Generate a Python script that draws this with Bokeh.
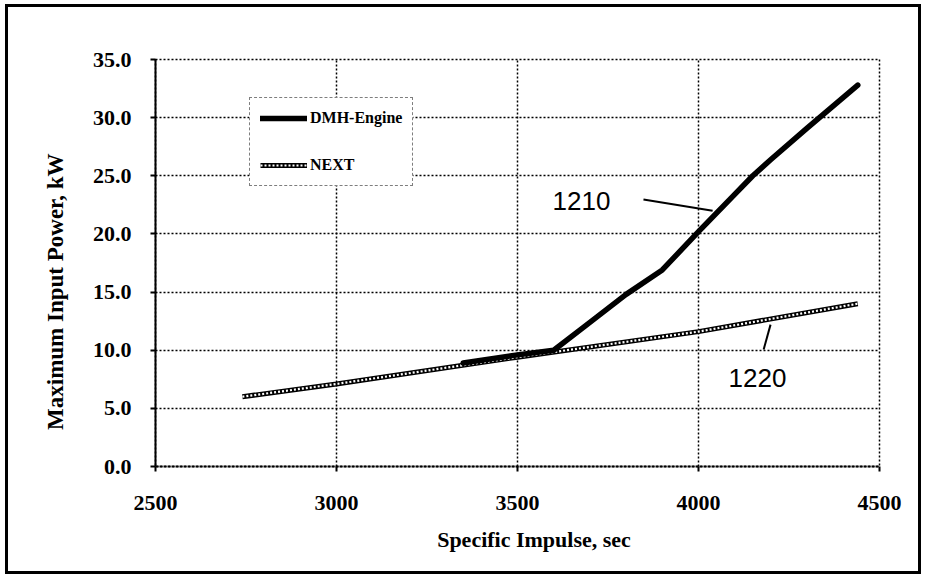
from bokeh.plotting import figure
from bokeh.models import (Legend, LegendItem, Label, NumeralTickFormatter,
                          FixedTicker, Range1d)
from bokeh.embed import file_html
from bokeh.resources import INLINE

# ---- data ----
dmh_isp = [3350, 3500, 3600, 3700, 3800, 3900, 4000, 4100, 4150, 4200, 4300, 4440]
dmh_power = [8.9, 9.6, 10.0, 12.4, 14.8, 16.9, 20.2, 23.4, 25.0, 26.4, 29.1, 32.8]
next_isp = [2740, 3000, 3500, 4000, 4440]
next_power = [6.0, 7.1, 9.4, 11.6, 14.0]
x_ticks = [2500, 3000, 3500, 4000, 4500]
y_ticks = [0, 5, 10, 15, 20, 25, 30, 35]
series_names = ["DMH-Engine", "NEXT"]
callouts = ["1210", "1220"]
callout_text_x = [3597, 4083]
callout_text_y = [22.8, 7.65]
leader_x = [[3848, 4039], [4199, 4180]]
leader_y = [[22.96, 22.0], [12.2, 10.06]]
x_title = "Specific Impulse, sec"
y_title = "Maximum Input Power, kW"

SERIF = "Liberation Serif"
SANS = "Liberation Sans"
NB = "\u00a0"

p = figure(width=916, height=570, output_backend="svg", toolbar_location=None,
           x_range=Range1d(2500, 4500), y_range=Range1d(0, 35),
           min_border_left=147, min_border_right=45, min_border_top=52,
           min_border_bottom=111)
p.styles = {"border": "3px solid black", "margin-left": "5px", "margin-top": "4px"}

p.outline_line_color = "black"
p.outline_line_dash = "2 2"
p.outline_line_width = 1.5

for g in (p.xgrid[0], p.ygrid[0]):
    g.grid_line_color = "black"
    g.grid_line_dash = "2 2"
    g.grid_line_width = 1.5

p.xaxis.ticker = FixedTicker(ticks=x_ticks)
p.yaxis.ticker = FixedTicker(ticks=y_ticks)
p.xgrid.ticker = FixedTicker(ticks=x_ticks)
p.ygrid.ticker = FixedTicker(ticks=y_ticks)
p.yaxis.formatter = NumeralTickFormatter(format="0.0")

for ax in (p.xaxis[0], p.yaxis[0]):
    ax.axis_line_color = "black"
    ax.axis_line_width = 2
    ax.major_tick_line_color = "black"
    ax.major_tick_line_width = 2
    ax.major_tick_out = 5
    ax.major_tick_in = 0
    ax.minor_tick_line_color = None
    ax.major_label_text_font = SERIF
    ax.major_label_text_font_style = "bold"
    ax.major_label_text_font_size = "22px"
    ax.major_label_text_color = "black"
    ax.axis_label_text_font = SERIF
    ax.axis_label_text_font_style = "bold"
    ax.axis_label_text_color = "black"
p.xaxis.axis_line_dash = "3 1"
p.yaxis.major_label_standoff = 19
p.xaxis.major_label_standoff = 24

p.xaxis.axis_label = NB * 6 + x_title
p.xaxis.axis_label_text_font_size = "22px"
p.xaxis.axis_label_standoff = 14

p.yaxis.axis_label = y_title + NB * 10
p.yaxis.axis_label_text_font_size = "23px"
p.yaxis.axis_label_standoff = 22

# NEXT line: stippled look (black outline, white dashes inside)
r_next_a = p.line(next_isp, next_power, line_color="black", line_width=5)
r_next_b = p.line(next_isp, next_power, line_color="white", line_width=2.2,
                  line_dash="2 2")
# DMH-Engine thick line
r_dmh = p.line(dmh_isp, dmh_power, line_color="black", line_width=5.5,
               line_join="round", line_cap="round")

for i, t in enumerate(callouts):
    p.add_layout(Label(x=callout_text_x[i], y=callout_text_y[i], text=t,
                       text_align="left", text_baseline="middle",
                       text_font=SANS, text_font_size="26px",
                       text_color="black"))
    p.line(leader_x[i], leader_y[i], line_color="black", line_width=2)

legend = Legend(items=[LegendItem(label=series_names[0], renderers=[r_dmh]),
                       LegendItem(label=series_names[1], renderers=[r_next_a, r_next_b])],
                location=(94, 280), orientation="vertical",
                label_text_font=SERIF, label_text_font_style="bold",
                label_text_font_size="16px", label_text_color="black",
                glyph_width=47, glyph_height=20, label_height=20,
                label_standoff=3, spacing=27, padding=10, margin=0,
                border_line_color="black", border_line_dash="2 2",
                border_line_width=1.5, background_fill_color="white",
                background_fill_alpha=1.0)
p.add_layout(legend)

open("out.html", "w").write(file_html(p, INLINE))
